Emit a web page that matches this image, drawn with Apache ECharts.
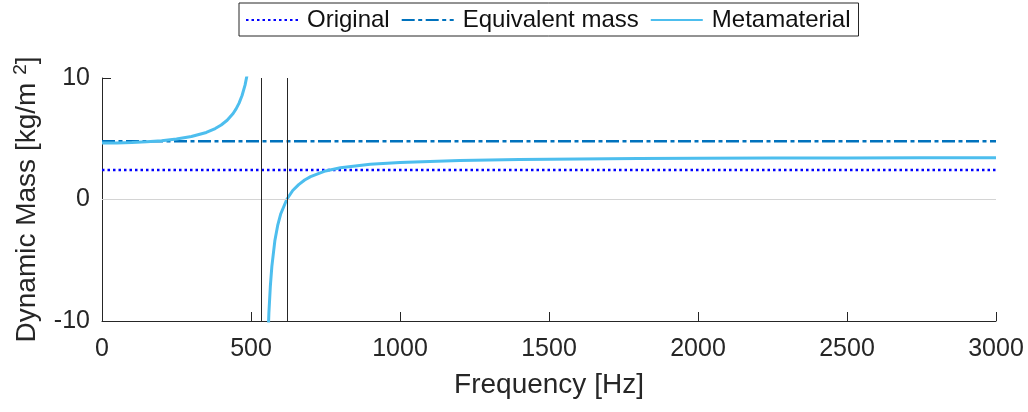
<!DOCTYPE html>
<html>
<head>
<meta charset="UTF-8">
<title>Dynamic Mass</title>
<script src="https://cdn.jsdelivr.net/npm/echarts@6/dist/echarts.min.js"></script>
<style>
  html, body { margin: 0; padding: 0; background: #fff; }
  #main { width: 1028px; height: 412px; }
</style>
</head>
<body>
<div id="main"></div>
<script>
// values
var freqRange = [0, 3000];
var originalMass = 2.43;
var equivalentMass = 4.79;
var resonanceLines = [536, 620];

var metaFreq = [0, 50, 100, 150, 200, 250, 300, 350, 380, 400, 420, 440, 450, 460, 470, 480, 490, 500, 510, 520,
  536,
  545, 550, 555, 560, 565, 570, 580, 590, 600, 620, 640, 660, 680, 700, 750, 800, 900, 1000,
  1200, 1400, 1600, 1800, 2000, 2250, 2500, 2750, 3000];
var metaMass = [4.65, 4.66, 4.69, 4.75, 4.84, 4.98, 5.19, 5.52, 5.84, 6.13, 6.52, 7.08, 7.46, 7.93, 8.56, 9.41, 10.63, 12.52, 15.88, 23.4,
  null,
  -31.2, -18.7, -12.82, -9.35, -7.10, -5.50, -3.40, -2.08, -1.17, 0.00, 0.74, 1.22, 1.60, 1.88, 2.35, 2.62, 2.90, 3.05,
  3.20, 3.29, 3.34, 3.37, 3.39, 3.41, 3.42, 3.43, 3.44];

var xTicks = [0, 500, 1000, 1500, 2000, 2500, 3000];
var yTicks = [-10, 0, 10];

var font = "'Liberation Sans', Arial, sans-serif";
var ink = '#262626';

var metaData = metaFreq.map(function (f, i) { return [f, metaMass[i]]; });

var chart = echarts.init(document.getElementById('main'), null, { renderer: 'canvas' });
chart.setOption({
  animation: false,
  textStyle: { fontFamily: font },
  grid: { left: 102, right: 32, top: 78, bottom: 91 },
  legend: {
    data: ['Original', 'Equivalent mass', 'Metamaterial'],
    left: 239,
    top: 3,
    padding: [5, 8, 4, 6],
    itemGap: 11,
    itemWidth: 52,
    itemHeight: 12,
    borderColor: ink,
    borderWidth: 1,
    backgroundColor: '#fff',
    itemStyle: { opacity: 0 },
    textStyle: { fontSize: 24, color: '#111', fontFamily: font, padding: [0, 0, 0, 4] }
  },
  xAxis: {
    type: 'value',
    min: freqRange[0],
    max: freqRange[1],
    interval: 500,
    name: 'Frequency [Hz]',
    nameLocation: 'middle',
    nameGap: 50,
    nameTextStyle: { fontSize: 28, color: ink, fontFamily: font },
    axisLine: { onZero: false, lineStyle: { color: ink, width: 1 } },
    axisTick: { inside: true, length: 9, lineStyle: { color: ink } },
    axisLabel: {
      fontSize: 25, color: ink, margin: 16, fontFamily: font,
      formatter: function (v) { return xTicks.indexOf(v) >= 0 ? String(v) : ''; }
    },
    splitLine: { show: false }
  },
  yAxis: {
    type: 'value',
    min: yTicks[0],
    max: yTicks[2],
    interval: 10,
    name: '{a|Dynamic Mass [kg/m }{s|2}{a|]}',
    nameLocation: 'middle',
    nameGap: 58,
    nameTextStyle: {
      color: ink,
      rich: {
        a: { fontSize: 28, color: ink, fontFamily: font },
        s: { fontSize: 19, color: ink, fontFamily: font, padding: [0, 0, 14, 0] }
      }
    },
    axisLine: { show: true, onZero: false, lineStyle: { color: ink, width: 1 } },
    axisTick: { show: true, inside: true, length: 9, lineStyle: { color: ink } },
    axisLabel: { fontSize: 25, color: ink, margin: 12, fontFamily: font },
    splitLine: { show: false }
  },
  series: [
    {
      name: 'guides',
      type: 'line',
      data: [],
      z: 1,
      silent: true,
      markLine: {
        silent: true,
        symbol: ['none', 'none'],
        label: { show: false },
        animation: false,
        data: [
          { yAxis: 0, lineStyle: { color: '#d4d4d4', width: 1, type: 'solid' } },
          { xAxis: resonanceLines[0], lineStyle: { color: ink, width: 1, type: 'solid' } },
          { xAxis: resonanceLines[1], lineStyle: { color: ink, width: 1, type: 'solid' } }
        ]
      }
    },
    {
      name: 'Original',
      type: 'line',
      symbol: 'none',
      z: 2,
      data: [[freqRange[0], originalMass], [freqRange[1], originalMass]],
      lineStyle: { color: '#0000ff', width: 2.5, type: [2.5, 3] },
      itemStyle: { color: '#0000ff' }
    },
    {
      name: 'Equivalent mass',
      type: 'line',
      symbol: 'none',
      z: 3,
      data: [[freqRange[0], equivalentMass], [freqRange[1], equivalentMass]],
      lineStyle: { color: '#0072bd', width: 2.5, type: [13, 3.5, 4, 3.5] },
      itemStyle: { color: '#0072bd' }
    },
    {
      name: 'Metamaterial',
      type: 'line',
      symbol: 'none',
      z: 4,
      connectNulls: false,
      data: metaData,
      lineStyle: { color: '#4dbeee', width: 3 },
      itemStyle: { color: '#4dbeee' }
    }
  ]
});
</script>
</body>
</html>
